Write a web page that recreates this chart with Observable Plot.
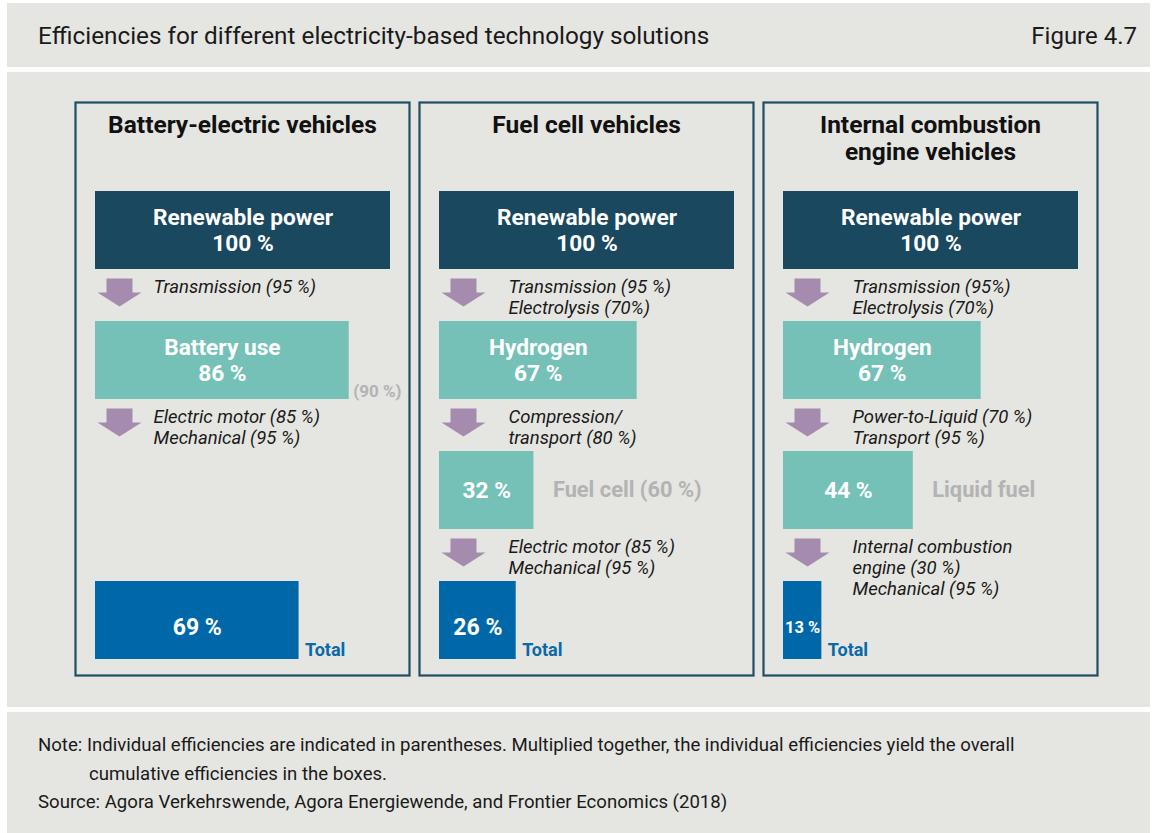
<!DOCTYPE html>
<html><head><meta charset="utf-8">
<script src="https://cdn.jsdelivr.net/npm/d3@7"></script>
<script src="https://cdn.jsdelivr.net/npm/@observablehq/plot@0.6"></script>
<style>
html,body{margin:0;padding:0;background:#fff;}
body{width:1155px;height:833px;overflow:hidden;font-family:Roboto, sans-serif;color:#1a1a1a;position:relative;}
#head{position:absolute;left:7px;top:3px;width:1143px;height:64px;background:#e5e5e1;}
#title{position:absolute;left:31px;top:1px;line-height:64px;font-size:24.3px;}
#fig{position:absolute;right:13px;top:1px;line-height:64px;font-size:24px;}
#main{position:absolute;left:7px;top:72px;width:1143px;height:635px;background:#e5e5e1;}
#foot{position:absolute;left:7px;top:712px;width:1143px;height:121px;background:#e5e5e1;font-size:18.6px;line-height:28.5px;box-sizing:border-box;padding:19px 0 0 31px;white-space:nowrap;}
#foot .note{padding-left:51px;text-indent:-51px;}
</style></head>
<body>
<div id="head"><div id="title">Efficiencies for different electricity-based technology solutions</div><div id="fig">Figure 4.7</div></div>
<div id="main"></div>
<div id="foot"><div class="note">Note: Individual efficiencies are indicated in parentheses. Multiplied together, the individual efficiencies yield the overall<br>cumulative efficiencies in the boxes.</div><div>Source: Agora Verkehrswende, Agora Energiewende, and Frontier Economics (2018)</div></div>
<script>
// ---- data ----
const vehicleKeys = ["bev", "fcev", "icev"];
const vehicleTitles = ["Battery-electric vehicles", "Fuel cell vehicles", "Internal combustion\nengine vehicles"];
const stages = ["Renewable power", "Conversion", "Fuel", "Total"];

const boxVehicle = ["bev","bev","bev","fcev","fcev","fcev","fcev","icev","icev","icev","icev"];
const boxStage = ["Renewable power","Conversion","Total","Renewable power","Conversion","Fuel","Total","Renewable power","Conversion","Fuel","Total"];
const boxValue = [100, 86, 69, 100, 67, 32, 26, 100, 67, 44, 13];
const boxLabel = ["Renewable power\n100 %","Battery use\n86 %","69 %","Renewable power\n100 %","Hydrogen\n67 %","32 %","26 %","Renewable power\n100 %","Hydrogen\n67 %","44 %","13 %"];

const stepVehicle = ["bev","bev","fcev","fcev","fcev","icev","icev","icev"];
const stepFrom = ["Renewable power","Conversion","Renewable power","Conversion","Fuel","Renewable power","Conversion","Fuel"];
const stepText = [
  "Transmission (95 %)",
  "Electric motor (85 %)\nMechanical (95 %)",
  "Transmission (95 %)\nElectrolysis (70%)",
  "Compression/\ntransport (80 %)",
  "Electric motor (85 %)\nMechanical (95 %)",
  "Transmission (95%)\nElectrolysis (70%)",
  "Power-to-Liquid (70 %)\nTransport (95 %)",
  "Internal combustion\nengine (30 %)\nMechanical (95 %)"
];

const storageVehicle = ["bev"];
const storageStage = ["Conversion"];
const storageAt = [86];
const storageText = ["(90 %)"];

const fuelVehicle = ["fcev", "icev"];
const fuelStage = ["Fuel", "Fuel"];
const fuelAt = [32, 44];
const fuelText = ["Fuel cell (60 %)", "Liquid fuel"];

// ---- tables ----
const boxes = boxValue.map((v, i) => ({vehicle: boxVehicle[i], stage: boxStage[i], value: v, label: boxLabel[i]}));
const inner = boxes.filter(d => d.stage !== "Total");
const totals = boxes.filter(d => d.stage === "Total");
const steps = stepText.map((t, i) => ({vehicle: stepVehicle[i], from: stepFrom[i], text: t}));
const storage = storageText.map((t, i) => ({vehicle: storageVehicle[i], stage: storageStage[i], at: storageAt[i], text: t}));
const fuels = fuelText.map((t, i) => ({vehicle: fuelVehicle[i], stage: fuelStage[i], at: fuelAt[i], text: t}));

const arrow = {
  draw(ctx) {
    ctx.moveTo(-13, -14); ctx.lineTo(13, -14); ctx.lineTo(13, 0); ctx.lineTo(22, 0);
    ctx.lineTo(0, 14); ctx.lineTo(-22, 0); ctx.lineTo(-13, 0); ctx.closePath();
  }
};

const stepStyle = {fx: "vehicle", y: "from", text: "text", frameAnchor: "left", dy: 48, textAnchor: "start", lineAnchor: "top",
  fontStyle: "italic", fontSize: 18.5, lineHeight: 1.135, fill: "#1a1a1a"};

const chart = Plot.plot({
  width: 1143, height: 635,
  marginLeft: 68, marginRight: 53, marginTop: 30, marginBottom: 32,
  style: {fontFamily: "Roboto, sans-serif", background: "transparent", overflow: "visible"},
  fx: {domain: vehicleKeys, paddingInner: 0.03, paddingOuter: 0, axis: null, label: null},
  x: {domain: [0, 100], insetLeft: 20, insetRight: 19, axis: null},
  y: {type: "band", domain: stages, paddingInner: 0.403, paddingOuter: 0, insetTop: 88, insetBottom: 15, axis: null},
  color: {domain: stages, range: ["#1a485e", "#75c1b8", "#75c1b8", "#0068a9"]},
  marks: [
    Plot.frame({stroke: "#1f4e66", strokeWidth: 2.2}),
    Plot.text(vehicleKeys, {fx: d => d, text: (d, i) => vehicleTitles[i], frameAnchor: "top", dy: 11, lineAnchor: "top",
      fontSize: 24.5, fontWeight: "bold", fill: "#111", lineHeight: 1.1}),
    Plot.barX(boxes, {fx: "vehicle", y: "stage", x1: 0, x2: "value", fill: "stage"}),
    Plot.text(inner, {fx: "vehicle", y: "stage", x: d => d.value / 2, text: "label", fill: "white", fontWeight: "bold",
      fontSize: 22.7, lineHeight: 1.145, dy: -1}),
    Plot.text(totals, {fx: "vehicle", y: "stage", x: d => d.value / 2, text: "label", fill: "white", fontWeight: "bold",
      fontSize: d => d.value < 20 ? 16.5 : 23, dy: 7}),
    Plot.dot(steps, {fx: "vehicle", y: "from", frameAnchor: "left", dx: 44, dy: 62, symbol: arrow, r: 10, fill: "#a58bad"}),
    Plot.text(steps.filter(d => d.vehicle === "bev"), {...stepStyle, dx: 78}),
    Plot.text(steps.filter(d => d.vehicle !== "bev"), {...stepStyle, dx: 89}),
    Plot.text(storage, {fx: "vehicle", y: "stage", x: "at", text: "text", dx: 4, dy: 31, textAnchor: "start",
      fontSize: 17, fontWeight: "bold", fill: "#b3b3b3"}),
    Plot.text(fuels, {fx: "vehicle", y: "stage", x: "at", text: "text", dx: 19, textAnchor: "start",
      fontSize: 21.8, fontWeight: "bold", fill: "#b3b3b3"}),
    Plot.text(totals, {fx: "vehicle", y: "stage", x: "value", text: () => "Total", dx: 6, dy: 30, textAnchor: "start",
      fontSize: 18, fontWeight: "bold", fill: "#0a69a8"})
  ]
});
document.getElementById("main").appendChild(chart);
</script>
</body></html>
